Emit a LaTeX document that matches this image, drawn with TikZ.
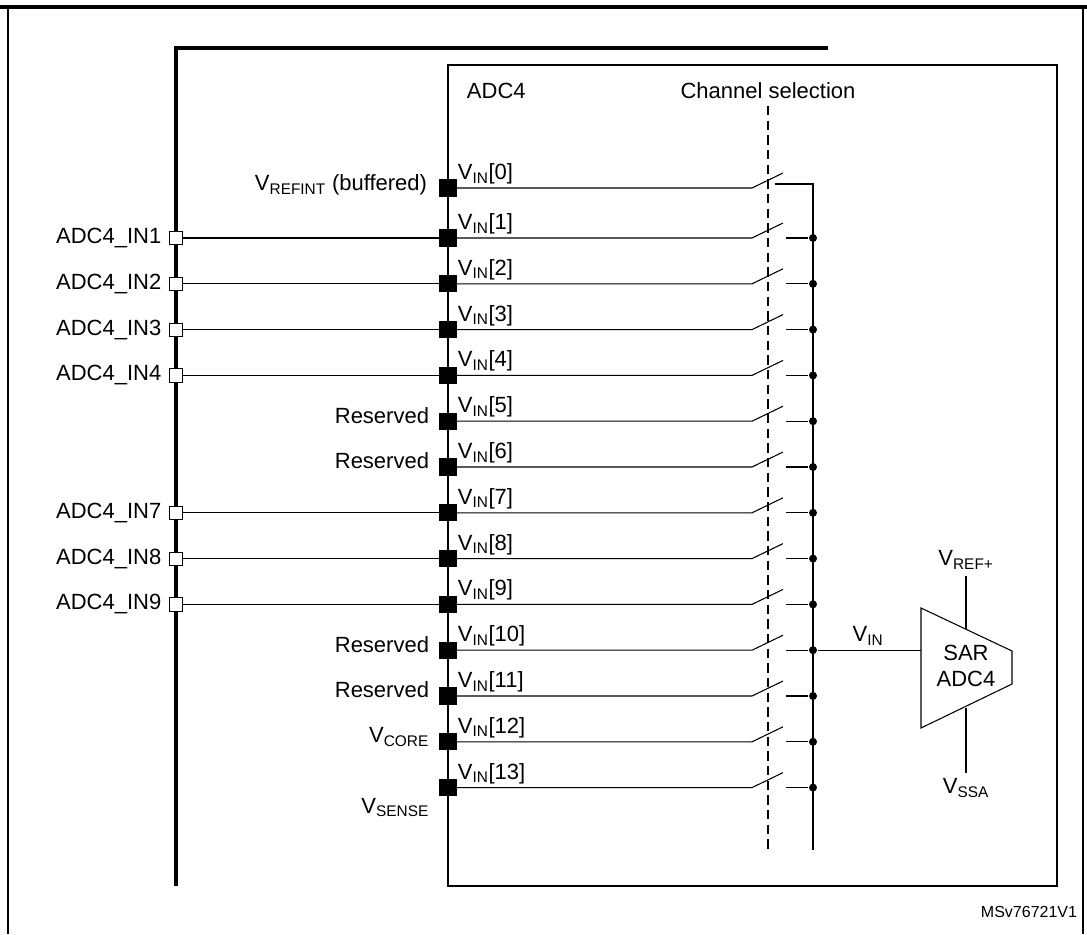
\documentclass[tikz,border=0pt]{standalone}
\usepackage{fontspec}
\setmainfont{Liberation Sans}
\usetikzlibrary{calc}
\usetikzlibrary{positioning}
\newcommand{\sbs}[1]{\textsubscript{#1}}

\begin{document}
\begin{tikzpicture}
		[
		x=0.75pt, y=-0.75pt,
		font=\fontsize{16.5}{19}\selectfont,
		line width=0.8pt
		]
		
		% Pad styles: internal and external
		\tikzstyle{int pad}=[rectangle,draw,fill=black,minimum size=12pt,inner sep=0];
		\tikzstyle{ext pad}=[rectangle,draw,fill=white,minimum size=10pt,inner sep=0,line width=0.6pt];
		\tikzstyle{junction}=[circle,fill=black,inner sep=0,minimum size=6pt];
		
		\useasboundingbox (0,0) rectangle (1087,934);
		% Frame
		\draw[line width=2.5pt] (0,7) -- (1087,7);
		\draw (8,7) -- (8,934);
		\draw (1083,7) -- (1083,934);
		
		% Bus and ADC block
		\draw[line width=2.5pt] (828,48) -| (176,886);
		\draw (448,65) rectangle (1057,886);
		\node[anchor=west] (adc) at (462,91) {ADC4};
		\node (chsel) at (768,91) {Channel selection};
		\draw[dashed, dash pattern=on 7pt off 4pt] (768,106) -- (768,850);
		
		% Collector
		\coordinate (top) at (813,184);
		\coordinate (bot) at (813,850);
		\draw (775,184) -- (top) -- (bot);
		
		% Channel 0
		\node[int pad] (p0) at (448,188) {};
		\node[anchor=south west, inner sep=1pt] at (456,186) {V\sbs{IN}[0]};
		\node[anchor=east] at (432,185) {V\sbs{REFINT} (buffered)};
		\coordinate (s0) at (752,188);
		\draw (p0) -- (s0) -- ++(31,-15);
		
		% Channels 1 to 13
		\foreach \i in {1,...,13}{
			\pgfmathsetmacro{\yy}{238+(\i-1)*45.8}
			\node[int pad] (p\i) at (448,\yy) {};
			\node[anchor=south west, inner sep=1pt] at (456,\yy-2) {V\sbs{IN}[\i]};
			\coordinate (s\i) at (752,\yy);
			\coordinate (c\i) at (786,\yy);
			\node[junction] (j\i) at (813,\yy) {};
			\draw (p\i) -- (s\i) -- ++(31,-15);
			\draw (c\i) -- (j\i);
		}
		
		% External inputs
		\foreach \i in {1,2,3,4,7,8,9}{
			\node[ext pad] (e\i) at (176,{238+(\i-1)*45.8}) {};
			\draw (e\i) -- (p\i);
			\node[left=2pt of e\i] {ADC4\_IN\i};
		}
		
		% Internal sources
		\foreach \i/\t in {5/Reserved, 6/Reserved, 10/Reserved, 11/Reserved}
			\node[anchor=east] at ($(p\i)+(-14,-6)$) {\t};
		\node[anchor=east] at ($(p12)+(-14,-5)$) {V\sbs{CORE}};
		\node[anchor=east] at ($(p13)+(-14,20)$) {V\sbs{SENSE}};
		
		% SAR ADC
		\coordinate (sar) at (921,652);
		\draw (921,608) -- (1012,651) -- (1012,684) -- (921,728) -- cycle;
		\node[align=center] (sarl) at (966,666) {SAR\\ADC4};
		\draw (j10) -- (j10 -| sar);
		\node (vin) at (868,636) {V\sbs{IN}};
		\coordinate (vr) at (966,629);
		\coordinate (vs) at (966,708);
		\node (vref) at (966,560) {V\sbs{REF+}};
		\node (vssa) at (966,788) {V\sbs{SSA}};
		\draw (vref.south) ++(0,2) -- (vr);
		\draw (vs) -- ++(0,65);
		
		\node[anchor=east, font=\fontsize{12}{14}\selectfont] at (1082,912) {MSv76721V1};
\end{tikzpicture}
\end{document}
